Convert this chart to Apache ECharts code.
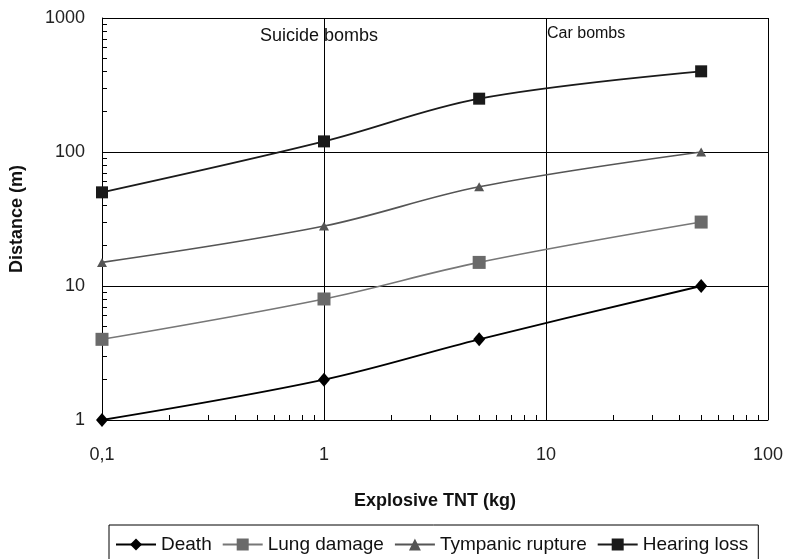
<!DOCTYPE html>
<html>
<head>
<meta charset="utf-8">
<script src="https://cdn.jsdelivr.net/npm/echarts@6/dist/echarts.min.js"></script>
<style>html,body{margin:0;padding:0;background:#fff}#c{width:786px;height:559px}</style>
</head>
<body>
<div id="c"></div>
<script>
const xValues = [0.1, 1, 5, 50];
const death = [1, 2, 4, 10];
const lungDamage = [4, 8, 15, 30];
const tympanic = [15, 28, 55, 100];
const hearingLoss = [50, 120, 250, 400];
const seriesNames = ['Death', 'Lung damage', 'Tympanic rupture', 'Hearing loss'];
const minorX = [0.2,0.3,0.4,0.5,0.6,0.7,0.8,0.9,2,3,4,5,6,7,8,9,20,30,40,50,60,70,80,90];
const minorY = [2,3,4,5,6,7,8,9,20,30,40,50,60,70,80,90,200,300,400,500,600,700,800,900];

const FONT = '"Liberation Sans", Arial, sans-serif';
const pair = (arr) => xValues.map((x, i) => [x, arr[i]]);

const chart = echarts.init(document.getElementById('c'), null, {renderer: 'canvas'});
chart.setOption({
  animation: false,
  textStyle: {fontFamily: FONT},
  grid: {left: 98, right: 16, top: 18, bottom: 139},
  xAxis: [{
    type: 'log', logBase: 10, min: 0.1, max: 100, position: 'bottom',
    name: 'Explosive TNT (kg)', nameLocation: 'middle', nameGap: 72,
    nameTextStyle: {fontFamily: FONT, fontSize: 18, fontWeight: 'bold', color: '#111'},
    axisLine: {show: true, lineStyle: {color: '#000', width: 1}},
    axisTick: {show: false},
    axisLabel: {fontFamily: FONT, fontSize: 18, color: '#222', margin: 26, showMinLabel: true, showMaxLabel: true,
      formatter: v => String(v).replace('.', ',')},
    splitLine: {show: true, lineStyle: {color: '#000', width: 1}}
  }, {
    type: 'log', logBase: 10, min: 0.1, max: 100, position: 'bottom',
    axisLine: {show: false}, axisLabel: {show: false}, splitLine: {show: false},
    axisTick: {show: true, inside: true, length: 5, customValues: minorX, lineStyle: {color: '#000', width: 1}}
  }],
  yAxis: [{
    type: 'log', logBase: 10, min: 1, max: 1000, position: 'left',
    name: 'Distance (m)', nameLocation: 'middle', nameGap: 76,
    nameTextStyle: {fontFamily: FONT, fontSize: 18, fontWeight: 'bold', color: '#111'},
    axisLine: {show: true, lineStyle: {color: '#000', width: 1}},
    axisTick: {show: false},
    axisLabel: {fontFamily: FONT, fontSize: 18, color: '#222', margin: 17, showMinLabel: true, showMaxLabel: true,
      formatter: v => String(v)},
    splitLine: {show: true, lineStyle: {color: '#000', width: 1}}
  }, {
    type: 'log', logBase: 10, min: 1, max: 1000, position: 'left',
    axisLine: {show: false}, axisLabel: {show: false}, splitLine: {show: false},
    axisTick: {show: true, inside: true, length: 5, customValues: minorY, lineStyle: {color: '#000', width: 1}}
  }],
  legend: {
    left: 109, top: 525, padding: [10, 10, 30, 6],
    borderColor: '#000', borderWidth: 1, borderRadius: 0,
    itemWidth: 40, itemHeight: 15, itemGap: 10,
    textStyle: {fontFamily: FONT, fontSize: 19, color: '#111'},
    data: seriesNames
  },
  graphic: [
    {type: 'text', left: 260, top: 27, style: {text: 'Suicide bombs', font: '18px ' + FONT, fill: '#111'}},
    {type: 'text', left: 547, top: 26, style: {text: 'Car bombs', font: '16px ' + FONT, fill: '#111'}}
  ],
  series: [
    {name: seriesNames[0], type: 'line', smooth: 0.35, data: pair(death), xAxisIndex: 0, yAxisIndex: 0,
     symbol: 'diamond', symbolSize: [12, 14], color: '#000',
     lineStyle: {color: '#000', width: 1.8}, itemStyle: {color: '#000'}},
    {name: seriesNames[1], type: 'line', smooth: 0.35, data: pair(lungDamage), xAxisIndex: 0, yAxisIndex: 0,
     symbol: 'rect', symbolSize: 13, color: '#6a6a6a',
     lineStyle: {color: '#777', width: 1.6}, itemStyle: {color: '#6a6a6a'}},
    {name: seriesNames[2], type: 'line', smooth: 0.35, data: pair(tympanic), xAxisIndex: 0, yAxisIndex: 0,
     symbol: 'triangle', symbolSize: [10, 9], color: '#555',
     lineStyle: {color: '#555', width: 1.6}, itemStyle: {color: '#555'}},
    {name: seriesNames[3], type: 'line', smooth: 0.35, data: pair(hearingLoss), xAxisIndex: 0, yAxisIndex: 0,
     symbol: 'rect', symbolSize: 12, color: '#1a1a1a',
     lineStyle: {color: '#1a1a1a', width: 1.8}, itemStyle: {color: '#1a1a1a'}}
  ]
});
</script>
</body>
</html>
